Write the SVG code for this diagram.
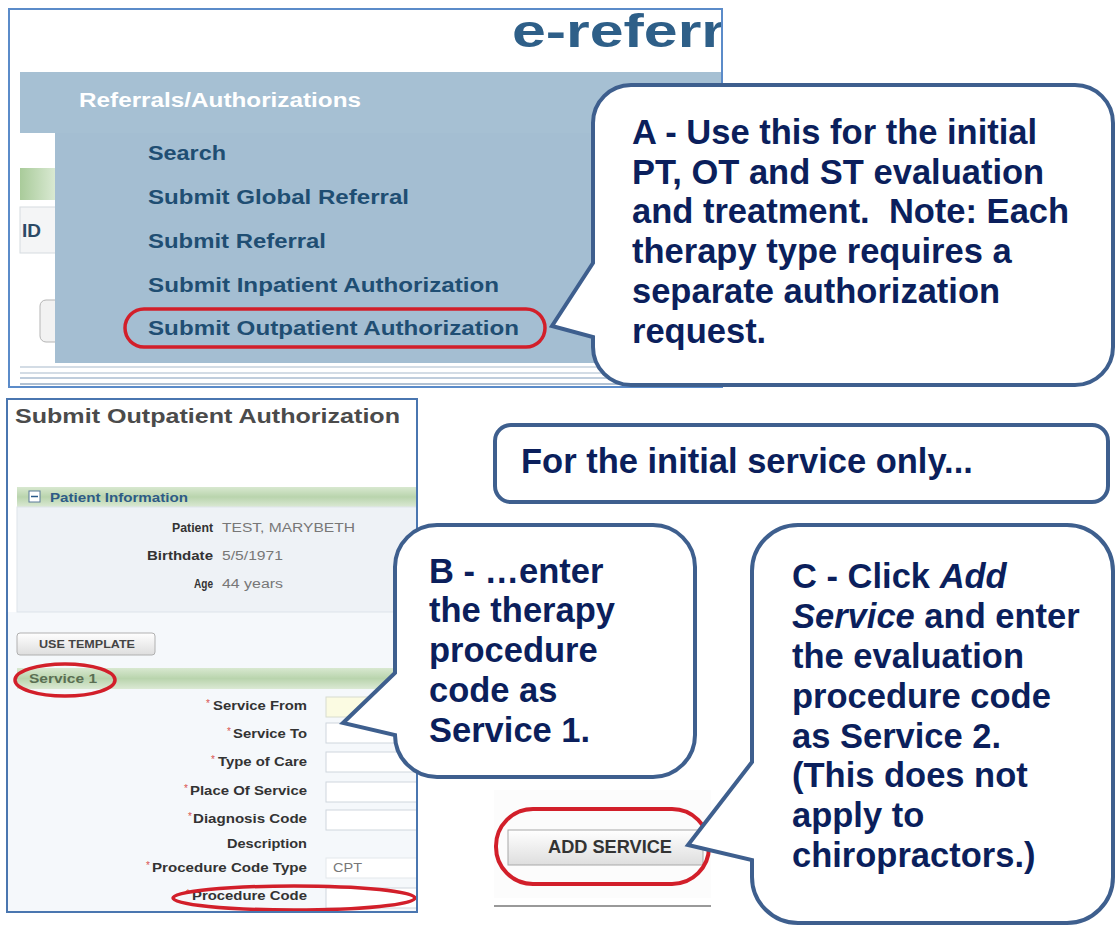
<svg xmlns="http://www.w3.org/2000/svg" width="1115" height="925" viewBox="0 0 1115 925">
<defs>
<style>
.ct{font-family:"Liberation Sans",Arial,sans-serif;font-weight:bold;font-size:34.5px;fill:#0b1f5c}
.co{fill:#ffffff;stroke:#3e5f8e;stroke-width:4;stroke-linejoin:miter}
.menu{font-family:"Liberation Sans",Arial,sans-serif;font-weight:bold;font-size:20px;fill:#1f4e73}
.sl{font-family:"Liberation Sans",Arial,sans-serif;font-weight:bold;font-size:12.5px;fill:#333333;text-anchor:end}
.sv{font-family:"Liberation Sans",Arial,sans-serif;font-size:12.5px;fill:#777777}
.ast{font-family:"Liberation Sans",Arial,sans-serif;font-size:10px;fill:#d9534f;text-anchor:end}
.inp{fill:#ffffff;stroke:#cfd6dd;stroke-width:1}
.red{fill:none;stroke:#d21f2a;stroke-width:3.5}
</style>
<linearGradient id="green" x1="0" y1="0" x2="0" y2="1">
<stop offset="0" stop-color="#d8e8d0"/><stop offset="0.5" stop-color="#b9d4ad"/><stop offset="1" stop-color="#dbe9d4"/>
</linearGradient>
<linearGradient id="green2" x1="0" y1="0" x2="1" y2="0">
<stop offset="0" stop-color="#a9cb9a"/><stop offset="1" stop-color="#d9e9d2"/>
</linearGradient>
<linearGradient id="btn" x1="0" y1="0" x2="0" y2="1">
<stop offset="0" stop-color="#ffffff"/><stop offset="1" stop-color="#dedede"/>
</linearGradient>
<clipPath id="clipTop"><rect x="10" y="10" width="711" height="376"/></clipPath>
<clipPath id="clipForm"><rect x="8" y="400" width="408" height="511"/></clipPath>
</defs>

<rect x="0" y="0" width="1115" height="925" fill="#ffffff"/>

<g id="menu-screenshot">
<rect x="9" y="9" width="713" height="378" fill="#ffffff" stroke="#5b8bc9" stroke-width="2"/>
<g clip-path="url(#clipTop)">
<text x="512" y="47" font-family="Liberation Sans, Arial, sans-serif" font-weight="bold" font-size="47" fill="#2e5f88" textLength="213" lengthAdjust="spacingAndGlyphs">e-referr</text>
<rect x="20" y="72" width="702" height="291" fill="#a6c0d3"/>
<rect x="20" y="133" width="35" height="230" fill="#ffffff"/>
<rect x="20" y="168" width="35" height="32" fill="url(#green2)"/>
<rect x="20" y="207" width="40" height="46" fill="#f4f5f6" stroke="#d6dbe0"/>
<text x="22" y="237" font-family="Liberation Sans, Arial, sans-serif" font-weight="bold" font-size="19" fill="#2c4a66" textLength="19" lengthAdjust="spacingAndGlyphs">ID</text>
<rect x="40" y="300" width="30" height="42" rx="6" fill="#f2f2f2" stroke="#b5b5b5"/>
<rect x="55" y="133" width="667" height="230" fill="#a4bed2"/>
<line x1="20" y1="367" x2="722" y2="367" stroke="#d3dce5" stroke-width="2"/>
<line x1="20" y1="373" x2="722" y2="373" stroke="#c4d0dc" stroke-width="1.5"/>
<line x1="20" y1="378" x2="722" y2="378" stroke="#aabdd0" stroke-width="1.5"/>
<line x1="20" y1="384" x2="722" y2="384" stroke="#97adc4" stroke-width="1.5"/>
<text class="menu" x="79" y="107" style="fill:#ffffff" textLength="282" lengthAdjust="spacingAndGlyphs">Referrals/Authorizations</text>
<text class="menu" x="148" y="160" textLength="78" lengthAdjust="spacingAndGlyphs">Search</text>
<text class="menu" x="148" y="204" textLength="261" lengthAdjust="spacingAndGlyphs">Submit Global Referral</text>
<text class="menu" x="148" y="248" textLength="178" lengthAdjust="spacingAndGlyphs">Submit Referral</text>
<text class="menu" x="148" y="292" textLength="351" lengthAdjust="spacingAndGlyphs">Submit Inpatient Authorization</text>
<text class="menu" x="148" y="335" textLength="371" lengthAdjust="spacingAndGlyphs">Submit Outpatient Authorization</text>
<rect class="red" x="125" y="309" width="420" height="38" rx="19"/>
</g>
</g>

<g id="form-screenshot">
<rect x="7" y="399" width="410" height="513" fill="#ffffff" stroke="#4a76b0" stroke-width="2"/>
<g clip-path="url(#clipForm)">
<rect x="8" y="612" width="408" height="300" fill="#f5f8fb"/>
<text x="15" y="423" font-family="Liberation Sans, Arial, sans-serif" font-weight="bold" font-size="21" fill="#4b4b4b" textLength="385" lengthAdjust="spacingAndGlyphs">Submit Outpatient Authorization</text>
<rect x="17" y="487" width="402" height="20" fill="url(#green)"/>
<rect x="29" y="491" width="11" height="11" fill="#ffffff" stroke="#5a7a9a"/>
<line x1="31" y1="496.5" x2="38" y2="496.5" stroke="#2a5a8a" stroke-width="1.5"/>
<text x="50" y="502" font-family="Liberation Sans, Arial, sans-serif" font-weight="bold" font-size="12" fill="#2d5b86" textLength="138" lengthAdjust="spacingAndGlyphs">Patient Information</text>
<rect x="17" y="507" width="402" height="105" fill="#eef2f6" stroke="#dde3ea"/>
<text class="sl" x="213" y="532" textLength="41" lengthAdjust="spacingAndGlyphs">Patient</text>
<text class="sl" x="213" y="560" textLength="66" lengthAdjust="spacingAndGlyphs">Birthdate</text>
<text class="sl" x="213" y="588" textLength="19" lengthAdjust="spacingAndGlyphs">Age</text>
<text class="sv" x="222" y="532" textLength="133" lengthAdjust="spacingAndGlyphs">TEST, MARYBETH</text>
<text class="sv" x="222" y="560" textLength="61" lengthAdjust="spacingAndGlyphs">5/5/1971</text>
<text class="sv" x="222" y="588" textLength="61" lengthAdjust="spacingAndGlyphs">44 years</text>
<rect x="17" y="633" width="138" height="22" rx="3" fill="url(#btn)" stroke="#b0b0b0"/>
<text x="87" y="648" text-anchor="middle" font-family="Liberation Sans, Arial, sans-serif" font-weight="bold" font-size="11.5" fill="#444444" textLength="96" lengthAdjust="spacingAndGlyphs">USE TEMPLATE</text>
<rect x="17" y="668" width="402" height="21" fill="url(#green)"/>
<text x="29" y="683" font-family="Liberation Sans, Arial, sans-serif" font-weight="bold" font-size="12" fill="#5a6e52" textLength="68" lengthAdjust="spacingAndGlyphs">Service  1</text>
<ellipse class="red" cx="65" cy="680" rx="50" ry="16"/>
<rect x="326" y="697" width="95" height="20" fill="#fbfbe2" stroke="#d8dccf"/>
<rect class="inp" x="326" y="723" width="95" height="20"/>
<rect class="inp" x="326" y="752" width="95" height="20"/>
<rect class="inp" x="326" y="782" width="95" height="20"/>
<rect class="inp" x="326" y="810" width="95" height="20"/>
<rect class="inp" x="326" y="858" width="95" height="20" style="stroke:#e3e7eb"/>
<rect class="inp" x="326" y="888" width="95" height="20"/>
<text class="ast" x="210" y="707">*</text><text class="sl" x="307" y="710" textLength="94" lengthAdjust="spacingAndGlyphs">Service From</text>
<text class="ast" x="231" y="735">*</text><text class="sl" x="307" y="738" textLength="74" lengthAdjust="spacingAndGlyphs">Service To</text>
<text class="ast" x="215" y="763">*</text><text class="sl" x="307" y="766" textLength="89" lengthAdjust="spacingAndGlyphs">Type of Care</text>
<text class="ast" x="188" y="792">*</text><text class="sl" x="307" y="795" textLength="117" lengthAdjust="spacingAndGlyphs">Place Of Service</text>
<text class="ast" x="192" y="820">*</text><text class="sl" x="307" y="823" textLength="114" lengthAdjust="spacingAndGlyphs">Diagnosis Code</text>
<text class="sl" x="307" y="848" textLength="80" lengthAdjust="spacingAndGlyphs">Description</text>
<text class="ast" x="150" y="869">*</text><text class="sl" x="307" y="872" textLength="155" lengthAdjust="spacingAndGlyphs">Procedure Code Type</text>
<text class="sv" x="333" y="872" textLength="29" lengthAdjust="spacingAndGlyphs">CPT</text>
<text class="ast" x="190" y="897">*</text><text class="sl" x="307" y="900" textLength="115" lengthAdjust="spacingAndGlyphs">Procedure Code</text>
<ellipse class="red" cx="294" cy="898" rx="121" ry="12"/>
</g>
</g>

<g id="add-service">
<rect x="494" y="790" width="217" height="108" fill="#fcfcfc"/>
<rect x="508" y="830" width="195" height="35" fill="url(#btn)" stroke="#a8a8a8"/>
<text x="610" y="853" text-anchor="middle" font-family="Liberation Sans, Arial, sans-serif" font-weight="bold" font-size="18" fill="#333333" textLength="124" lengthAdjust="spacingAndGlyphs">ADD SERVICE</text>
<rect x="496" y="809" width="213" height="75" rx="37" fill="none" stroke="#d21f2a" stroke-width="4"/>
<line x1="494" y1="906" x2="711" y2="906" stroke="#777777" stroke-width="1.5"/>
</g>

<g id="callout-a">
<path class="co" d="M 631 85 H 1075 A 38 38 0 0 1 1113 123 V 347 A 38 38 0 0 1 1075 385 H 631 A 38 38 0 0 1 593 347 V 337 L 552 326 L 593 263 V 123 A 38 38 0 0 1 631 85 Z"/>
<text class="ct" x="632" y="144">A - Use this for the initial</text>
<text class="ct" x="632" y="184">PT, OT and ST evaluation</text>
<text class="ct" x="632" y="223" xml:space="preserve">and treatment.  Note: Each</text>
<text class="ct" x="632" y="263">therapy type requires a</text>
<text class="ct" x="632" y="303">separate authorization</text>
<text class="ct" x="632" y="343">request.</text>
</g>

<g id="callout-initial">
<rect class="co" x="495" y="425" width="613" height="77" rx="16"/>
<text class="ct" x="521" y="473">For the initial service only...</text>
</g>

<g id="callout-b">
<path class="co" d="M 437 525 H 653 A 42 42 0 0 1 695 567 V 735 A 42 42 0 0 1 653 777 H 437 A 42 42 0 0 1 395 735 L 343 723 L 395 673 V 567 A 42 42 0 0 1 437 525 Z"/>
<text class="ct" x="429" y="583">B - …enter</text>
<text class="ct" x="429" y="622">the therapy</text>
<text class="ct" x="429" y="662">procedure</text>
<text class="ct" x="429" y="702">code as</text>
<text class="ct" x="429" y="742">Service 1.</text>
</g>

<g id="callout-c">
<path class="co" d="M 798 525 H 1067 A 46 46 0 0 1 1113 571 V 877 A 46 46 0 0 1 1067 923 H 798 A 46 46 0 0 1 752 877 V 860 L 688 845 L 752 762 V 571 A 46 46 0 0 1 798 525 Z"/>
<text class="ct" x="792" y="588">C - Click <tspan font-style="italic">Add</tspan></text>
<text class="ct" x="792" y="628"><tspan font-style="italic">Service</tspan> and enter</text>
<text class="ct" x="792" y="668">the evaluation</text>
<text class="ct" x="792" y="708">procedure code</text>
<text class="ct" x="792" y="748">as Service 2.</text>
<text class="ct" x="792" y="787">(This does not</text>
<text class="ct" x="792" y="827">apply to</text>
<text class="ct" x="792" y="867">chiropractors.)</text>
</g>
</svg>
